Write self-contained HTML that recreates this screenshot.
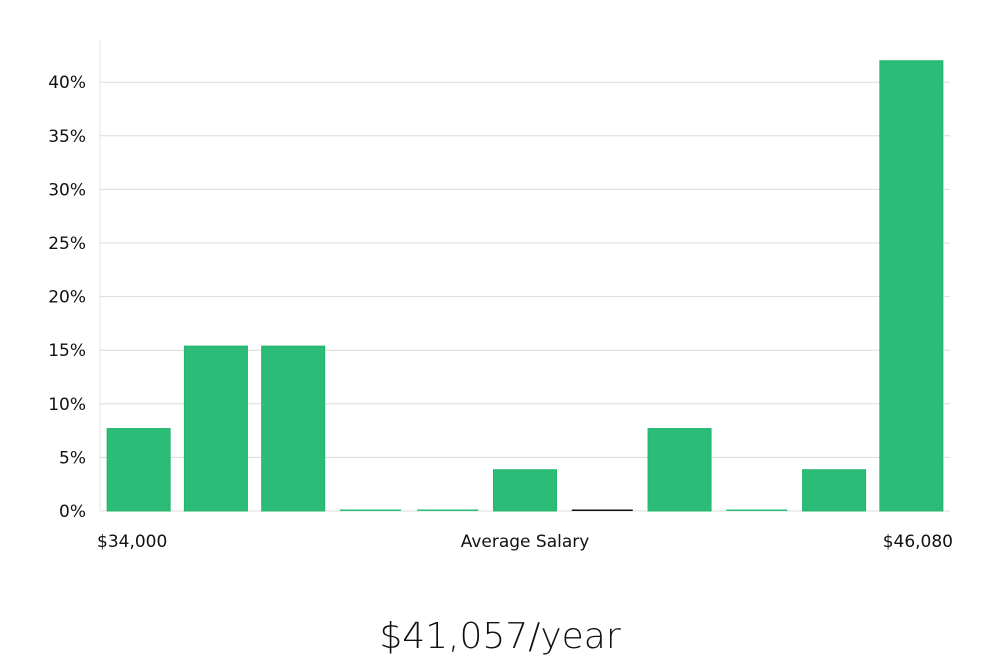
<!DOCTYPE html>
<html><head><meta charset="utf-8"><style>
body{margin:0;background:#fff;width:1000px;height:660px;overflow:hidden;font-family:"DejaVu Sans","Liberation Sans",sans-serif;}
</style></head><body>
<svg width="1000" height="660">
<g id="grid"></g><g id="bars"></g><g id="labels"></g>
<text x="500" y="648" text-anchor="middle" font-size="36" fill="#111" font-family="'DejaVu Sans',sans-serif" font-weight="300">$41,057/year</text>
</svg>
<script>
const categories=["b1","b2","b3","b4","b5","b6","b7","b8","b9","b10","b11"];
const values=[7.69,15.38,15.38,0,0,3.85,0,7.69,0,3.85,42.0];
const highlight=[false,false,false,false,false,false,true,false,false,false,false];
const yTicks=[0,5,10,15,20,25,30,35,40];
const xLabels=["$34,000","Average Salary","$46,080"];
const NS="http://www.w3.org/2000/svg";
const x0=100,x1=950,y0=511,pxPer=10.72;
const y=v=>y0-v*pxPer;
const step=(x1-x0)/categories.length;
function mk(t,a,p){const e=document.createElementNS(NS,t);for(const k in a)e.setAttribute(k,a[k]);p.appendChild(e);return e;}
const g=document.getElementById('grid');
mk('line',{x1:x0,x2:x0,y1:40,y2:y0,stroke:'#e4e4e4'},g);
yTicks.forEach(t=>{
const l=mk('line',{x1:x0,x2:x1,y1:y(t),y2:y(t),stroke:'#dcdcdc'},g);


const tx=mk('text',{x:86,y:y(t)+6,'text-anchor':'end','font-size':17,fill:'#111'},g);
tx.textContent=t+'%';


});
const b=document.getElementById('bars');
values.forEach((v,i)=>{
const cx=x0+step*(i+0.5),w=63;
let r;
if(v>0){r=mk('rect',{x:cx-w/2,y:y(v),width:w,height:y0-y(v),fill:'#2bbd77',stroke:'#25b36d'},b);}
else{r=mk('rect',{x:cx-w/2+1,y:y0-1.5,width:w-2,height:1.5,fill:highlight[i]?'#111':'#2bbd77'},b);}


});
const lb=document.getElementById('labels');
[[97,'start'],[525,'middle'],[953,'end']].forEach((p,i)=>{
const t=mk('text',{x:p[0],y:547,'text-anchor':p[1],'font-size':17,fill:'#111'},lb);
t.textContent=xLabels[i];


});
</script>
</body></html>
